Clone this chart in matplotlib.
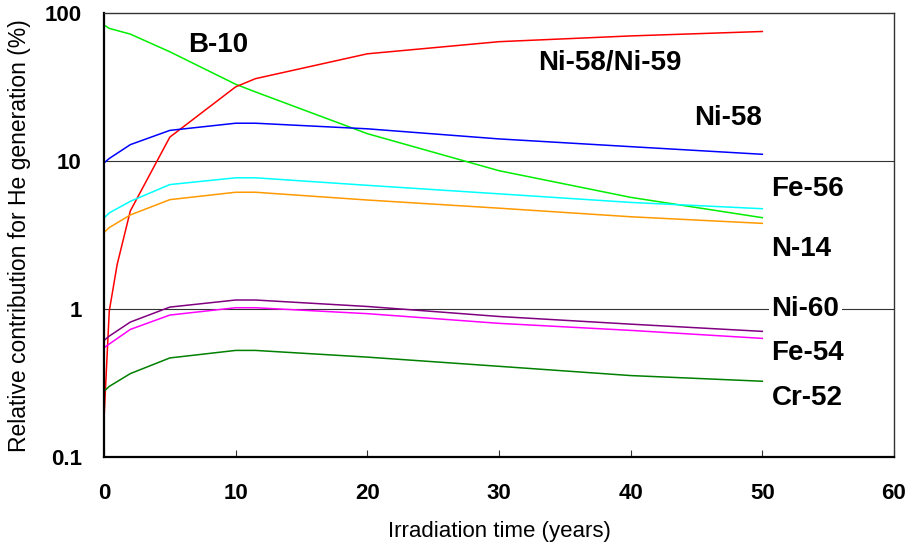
import matplotlib
matplotlib.use("Agg")
import matplotlib.pyplot as plt
from matplotlib.ticker import FixedLocator, FixedFormatter, NullLocator

# ---- data ----
t = [0, 0.4, 2, 5, 10, 11.5, 20, 30, 40, 50]
t_ni5859 = [0, 0.4, 1, 2, 5, 10, 11.5, 20, 30, 40, 50]
ni58_ni59 = [0.18, 0.97, 2.0, 4.6, 14.5, 31.7, 36, 53, 64, 70, 75]
b10 = [83, 78.7, 72, 54.7, 33, 29.3, 15.3, 8.6, 5.68, 4.14]
ni58 = [9.7, 10.4, 12.9, 16.1, 18.0, 18.0, 16.5, 14.1, 12.5, 11.1]
fe56 = [4.12, 4.46, 5.34, 6.93, 7.7, 7.7, 6.85, 6.0, 5.25, 4.76]
n14 = [3.29, 3.55, 4.32, 5.48, 6.15, 6.15, 5.45, 4.8, 4.2, 3.79]
ni60 = [0.613, 0.656, 0.816, 1.03, 1.15, 1.15, 1.04, 0.89, 0.79, 0.706]
fe54 = [0.547, 0.58, 0.728, 0.91, 1.02, 1.02, 0.93, 0.80, 0.717, 0.633]
cr52 = [0.278, 0.30, 0.366, 0.467, 0.525, 0.525, 0.473, 0.41, 0.355, 0.325]

x_ticks = [0, 10, 20, 30, 40, 50, 60]
y_ticks = [0.1, 1, 10, 100]
y_tick_labels = ["0.1", "1", "10", "100"]

plt.rcParams['font.family'] = ['Liberation Sans', 'DejaVu Sans']

fig = plt.figure(figsize=(9.11, 5.48), dpi=100)
ax = fig.add_axes([104/911, (548-457)/548, (894-104)/911, (457-13)/548])

lw = 1.1
ax.plot(t, b10, color='#00EE00', lw=lw)
ax.plot(t_ni5859, ni58_ni59, color='#FF0000', lw=lw)
ax.plot(t, ni58, color='#0000FF', lw=lw)
ax.plot(t, fe56, color='#00FFFF', lw=lw)
ax.plot(t, n14, color='#FF9900', lw=lw)
ax.plot(t, ni60, color='#800080', lw=lw)
ax.plot(t, fe54, color='#FF00FF', lw=lw)
ax.plot(t, cr52, color='#008000', lw=lw)

ax.set_yscale('log')
ax.set_xlim(0, 60)
ax.set_ylim(0.1, 100)

for v in (1, 10):
    ax.axhline(v, color='#333333', lw=0.8, zorder=0.5)

ax.xaxis.set_major_locator(FixedLocator(x_ticks))
ax.yaxis.set_major_locator(FixedLocator(y_ticks))
ax.yaxis.set_major_formatter(FixedFormatter(y_tick_labels))
ax.yaxis.set_minor_locator(NullLocator())
ax.tick_params(axis='x', direction='in', length=5, width=0.8, pad=19,
               labelsize=16, color='#333333')
ax.tick_params(axis='y', length=0, pad=16, labelsize=16)
for lab in ax.get_xticklabels() + ax.get_yticklabels():
    lab.set_fontweight('bold')

for s in ('left', 'bottom'):
    ax.spines[s].set_linewidth(1.6)
    ax.spines[s].set_color('black')
for s in ('top', 'right'):
    ax.spines[s].set_linewidth(1.0)
    ax.spines[s].set_color('#333333')

ax.set_xlabel("Irradiation time (years)", fontsize=16, labelpad=12)
fig.text(20/911, (548-452)/548, "Relative contribution for He generation (%)",
         rotation=90, ha='center', va='bottom', fontsize=16.5)

lab_kw = dict(fontsize=20, fontweight='bold', va='center')
ax.text(8.66, 60.7, "B-10", ha='center', **lab_kw)
ax.text(43.85, 45.8, "Ni-58/Ni-59", ha='right', **lab_kw)
ax.text(50, 19.4, "Ni-58", ha='right', **lab_kw)
ax.text(50.7, 6.51, "Fe-56", ha='left', **lab_kw)
ax.text(50.7, 2.55, "N-14", ha='left', **lab_kw)
ax.text(50.7, 1.0, "Ni-60", ha='left',
        bbox=dict(facecolor='white', edgecolor='none', pad=2), **lab_kw)
ax.text(50.7, 0.503, "Fe-54", ha='left', **lab_kw)
ax.text(50.7, 0.249, "Cr-52", ha='left', **lab_kw)

fig.savefig("out.png", dpi=100)
